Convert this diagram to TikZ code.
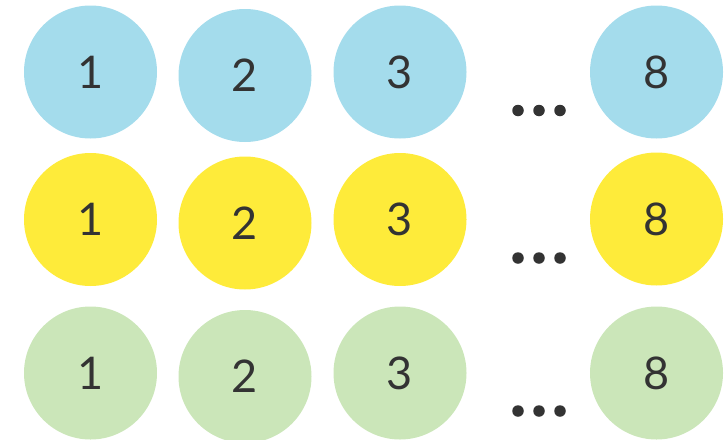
\documentclass[tikz,border=0pt]{standalone}
\usepackage{fontspec}
\setmainfont{Lato}
\usepackage{tikz}
\definecolor{rowblue}{HTML}{A4DCEC}
\definecolor{rowyellow}{HTML}{FEEB3A}
\definecolor{rowgreen}{HTML}{CBE6B9}
\definecolor{ink}{HTML}{333333}
\tikzset{
  ball/.style={circle, minimum size=133pt, inner sep=0pt, text=ink, font=\fontsize{45}{50}\selectfont},
  blueball/.style={ball, fill=rowblue},
  yellowball/.style={ball, fill=rowyellow},
  greenball/.style={ball, fill=rowgreen},
  dot/.style={circle, fill=ink, minimum size=11.5pt, inner sep=0pt},
}

\begin{document}
\begin{tikzpicture}[x=1pt, y=-1pt]
  \useasboundingbox (0,0) rectangle (727,439);
  % first row
  \node[blueball] (b1) at (90.5,72) {1};
  \node[blueball] (b2) at (245,75.5) {2};
  \node[blueball] (b3) at (400,72) {3};
  \node[blueball] (b8) at (656.5,72) {8};
  % second row
  \node[yellowball] (y1) at (90.5,219.5) {1};
  \node[yellowball] (y2) at (245,223) {2};
  \node[yellowball] (y3) at (400,219.5) {3};
  \node[yellowball] (y8) at (656.5,219) {8};
  % third row
  \node[greenball] (g1) at (90.5,373) {1};
  \node[greenball] (g2) at (245,376.5) {2};
  \node[greenball] (g3) at (400,373) {3};
  \node[greenball] (g8) at (656.5,373) {8};
  % ellipses
  \node[dot] (bdA) at (518,110.5) {};
  \node[dot] (bdB) at (539,110.5) {};
  \node[dot] (bdC) at (560,110.5) {};
  \node[dot] (ydA) at (518,258) {};
  \node[dot] (ydB) at (539,258) {};
  \node[dot] (ydC) at (560,258) {};
  \node[dot] (gdA) at (518,411) {};
  \node[dot] (gdB) at (539,411) {};
  \node[dot] (gdC) at (560,411) {};
\end{tikzpicture}
\end{document}
